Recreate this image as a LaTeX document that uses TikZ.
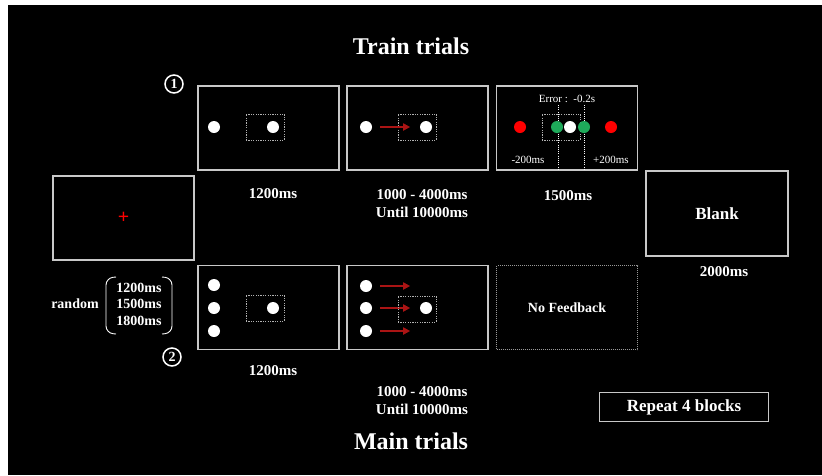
\documentclass[tikz,border=0pt]{standalone}
\usepackage{fontspec}
\setmainfont{Liberation Serif}
\usetikzlibrary{arrows.meta,positioning}
\definecolor{boxgray}{RGB}{200,200,200}
\definecolor{cuered}{RGB}{170,20,20}
\definecolor{hitgreen}{RGB}{30,170,90}
\tikzset{
  screen/.style={draw=boxgray,line width=1.2pt,minimum width=141pt,minimum height=84pt,inner sep=0pt},
  nofb/.style={screen,draw=gray!80,dash pattern=on 1pt off 1pt,line width=0.8pt},
  target/.style={draw=gray!60,line width=0.7pt,dash pattern=on 1.2pt off 1.2pt,minimum width=38pt,minimum height=26pt,inner sep=0pt},
  dot/.style={circle,fill=white,inner sep=0pt,minimum size=12pt},
  motion/.style={cuered,line width=2.2pt,-{Triangle[length=7pt,width=7pt]}},
  lbl/.style={text=white,font=\bfseries\fontsize{15}{18}\selectfont,align=center},
  small/.style={text=white,font=\fontsize{11}{12}\selectfont},
  title/.style={text=white,font=\bfseries\fontsize{24}{26}\selectfont},
  num/.style={circle,draw=white,line width=1.5pt,inner sep=0pt,minimum size=18pt,text=white,font=\bfseries\fontsize{14}{14}\selectfont},
}

\begin{document}
\begin{tikzpicture}[x=1pt,y=-1pt]
\useasboundingbox (0,0) rectangle (822,475);
\fill[white] (0,0) rectangle (822,475);
\fill[black] (8,5) rectangle (822,475);

\node[title] (train) at (411,46) {Train trials};
\node[title] (main) at (411,441) {Main trials};
\node[num] (n1) at (174,84) {1};
\node[num] (n2) at (172,357) {2};

% fixation
\node[screen] (fix) at (123.5,218) {};
\node[text=red,font=\bfseries\fontsize{20}{20}\selectfont] (cross) at (fix.center) {+};
\node[lbl,font=\bfseries\fontsize{14}{16}\selectfont] (rnd) at (75,304) {random};
\node[lbl,font=\bfseries\fontsize{14}{16.5}\selectfont] (iti) at (139,304) {1200ms\\1500ms\\1800ms};
\draw[white,line width=0.9pt,rounded corners=7pt] (116,277) -- (106,278) -- (106,333) -- (116,334);
\draw[white,line width=0.9pt,rounded corners=7pt] (162,277) -- (172,278) -- (172,333) -- (162,334);

% train: onset
\node[screen] (a1) at (268.5,128) {};
\node[dot] (a1s) at (214,127) {};
\node[target] (a1t) at (265,127) {};
\node[dot] (a1e) at (273,127) {};
\node[lbl] at (273,194) {1200ms};

% train: motion
\node[screen] (b1) at (417.5,128) {};
\node[dot] (b1s) at (366,127) {};
\node[target] (b1t) at (417,127) {};
\node[dot] (b1e) at (426,127) {};
\draw[motion] ([xshift=8pt]b1s.east) -- ++(30,0);
\node[lbl] at (422,204) {1000 - 4000ms\\Until 10000ms};

% train: feedback
\node[screen] (c1) at (567,128) {};
\node[small] (err) at (567,99) {Error :\ \ -0.2s};
\node[target] (c1t) at (561,127) {};
\draw[white,line width=0.6pt,dash pattern=on 1pt off 1.2pt] (558,105) -- (558,170);
\draw[white,line width=0.6pt,dash pattern=on 1pt off 1.2pt] (584,105) -- (584,170);
\node[dot,fill=red] (early) at (520,127) {};
\node[dot,fill=hitgreen] (g1) at (557,127) {};
\node[dot] (c1e) at (570,127) {};
\node[dot,fill=hitgreen] (g2) at (584,127) {};
\node[dot,fill=red] (late) at (611,127) {};
\node[small] at (528,160) {-200ms};
\node[small] at (611,160) {+200ms};
\node[lbl] at (568,196) {1500ms};

% blank
\node[screen,lbl,minimum width=142pt,minimum height=85pt,font=\bfseries\fontsize{17}{17}\selectfont] (blank) at (717,213.5) {Blank};
\node[lbl] at (724,272) {2000ms};

% main: onset
\node[screen] (a2) at (268.5,307.5) {};
\foreach \y/\n in {285/1,308/2,331/3}
  \node[dot] (a2s\n) at (214,\y) {};
\node[target] (a2t) at (265,308) {};
\node[dot] (a2e) at (273,308) {};
\node[lbl] at (273,371) {1200ms};

% main: motion
\node[screen] (b2) at (417.5,307.5) {};
\foreach \y/\n in {286/1,308/2,331/3}{
  \node[dot] (b2s\n) at (366,\y) {};
  \draw[motion] ([xshift=8pt]b2s\n.east) -- ++(30,0);
}
\node[target] (b2t) at (417,309) {};
\node[dot] (b2e) at (426,308) {};
\node[lbl] at (422,401) {1000 - 4000ms\\Until 10000ms};

% main: no feedback
\node[nofb,lbl,font=\bfseries\fontsize{14}{14}\selectfont] (c2) at (567,307.5) {No Feedback};

\node[draw=boxgray,line width=1.2pt,minimum width=169pt,minimum height=29pt,inner sep=0pt,lbl,font=\bfseries\fontsize{17}{17}\selectfont] (rep) at (684,407) {Repeat 4 blocks};
\end{tikzpicture}
\end{document}
